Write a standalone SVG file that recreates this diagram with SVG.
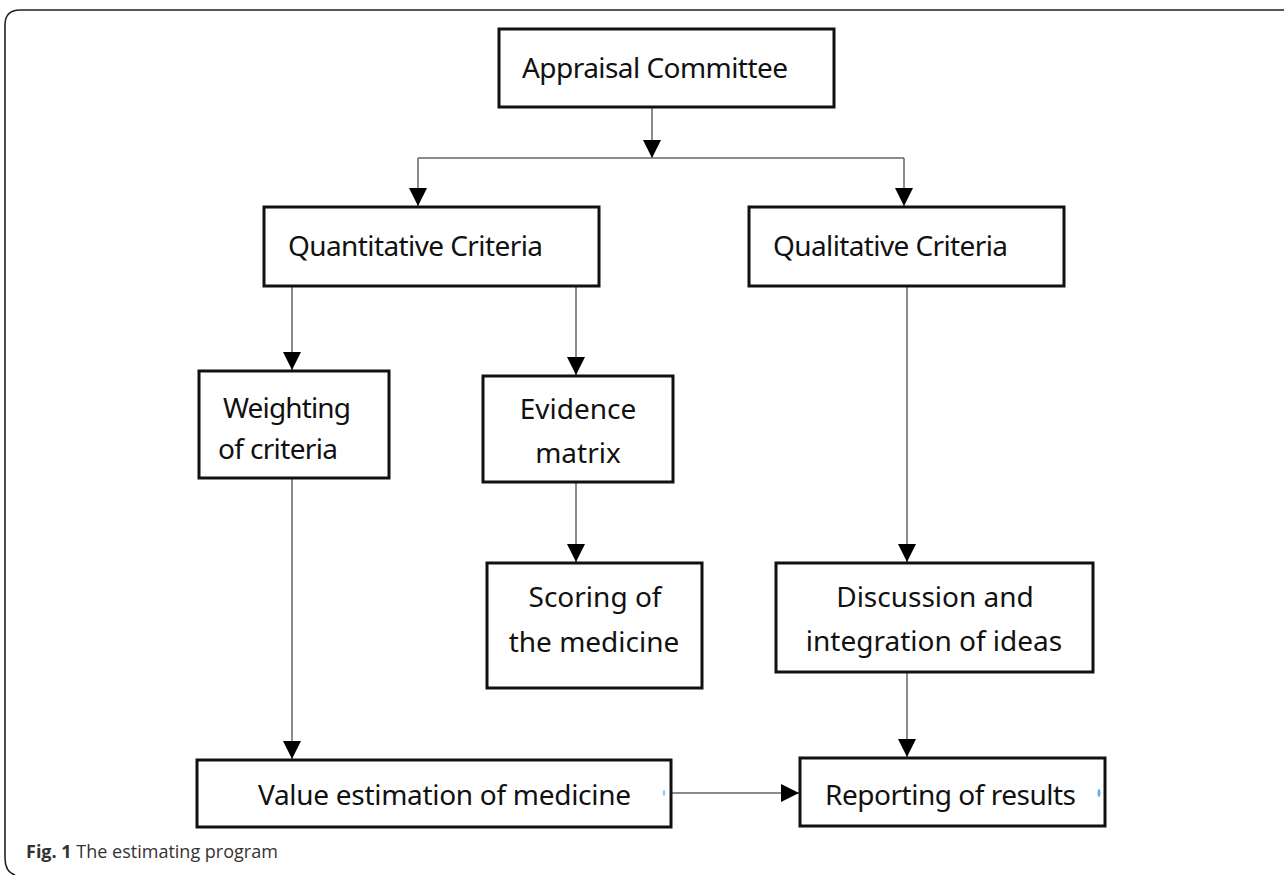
<svg xmlns="http://www.w3.org/2000/svg" width="1284" height="875" viewBox="0 0 1284 875">
<style>
.box{fill:#fff;stroke:#111;stroke-width:3}
.t{font-family:"Noto Sans","Open Sans",sans-serif;font-size:28px;fill:#111}
.c{text-anchor:middle}
.ln{fill:none;stroke:#666;stroke-width:1.5}
.cap{font-family:"Open Sans","Noto Sans",sans-serif;font-size:18px;fill:#333}
</style>
<defs>
<marker id="ah" markerUnits="userSpaceOnUse" markerWidth="18" markerHeight="18" viewBox="0 0 16 16" refX="16" refY="8" orient="auto">
<path d="M0,0 L16,8 L0,16 Z" fill="#000"/>
</marker>
</defs>
<rect width="1284" height="875" fill="#fff"/>
<path d="M1284 10 H20 Q5 10 5 25 V858 Q5 872 15 875" fill="none" stroke="#222" stroke-width="1.6"/>

<g id="connectors">
<line class="ln" x1="652" y1="107" x2="652" y2="158" marker-end="url(#ah)"/>
<line class="ln" x1="418" y1="158" x2="904" y2="158"/>
<line class="ln" x1="418" y1="158" x2="418" y2="206" marker-end="url(#ah)"/>
<line class="ln" x1="904" y1="158" x2="904" y2="206" marker-end="url(#ah)"/>
<line class="ln" x1="292" y1="286" x2="292" y2="370" marker-end="url(#ah)"/>
<line class="ln" x1="576" y1="286" x2="576" y2="375" marker-end="url(#ah)"/>
<line class="ln" x1="576" y1="482" x2="576" y2="562" marker-end="url(#ah)"/>
<line class="ln" x1="907" y1="286" x2="907" y2="562" marker-end="url(#ah)"/>
<line class="ln" x1="292" y1="478" x2="292" y2="759" marker-end="url(#ah)"/>
<line class="ln" x1="907" y1="672" x2="907" y2="757" marker-end="url(#ah)"/>
<line class="ln" x1="671" y1="793" x2="799" y2="793" marker-end="url(#ah)"/>
</g>

<g id="appraisal">
<rect class="box" x="499" y="29" width="335" height="78"/>
<text class="t" x="522" y="78" textLength="266">Appraisal Committee</text>
</g>
<g id="quantitative">
<rect class="box" x="264" y="207" width="335" height="79"/>
<text class="t" x="288" y="256" textLength="255">Quantitative  Criteria</text>
</g>
<g id="qualitative">
<rect class="box" x="749" y="207" width="315" height="79"/>
<text class="t" x="773" y="256" textLength="235">Qualitative  Criteria</text>
</g>
<g id="weighting">
<rect class="box" x="199" y="371" width="190" height="107"/>
<text class="t" x="223" y="418" textLength="128">Weighting</text>
<text class="t" x="218" y="459" textLength="120">of criteria</text>
</g>
<g id="evidence">
<rect class="box" x="483" y="376" width="190" height="106"/>
<text class="t c" x="578" y="419">Evidence</text>
<text class="t c" x="578" y="463">matrix</text>
</g>
<g id="scoring">
<rect class="box" x="487" y="563" width="215" height="125"/>
<text class="t c" x="595" y="607">Scoring  of</text>
<text class="t c" x="594" y="652">the  medicine</text>
</g>
<g id="discussion">
<rect class="box" x="776" y="563" width="317" height="109"/>
<text class="t c" x="935" y="607">Discussion  and</text>
<text class="t c" x="934" y="651">integration  of ideas</text>
</g>
<g id="value">
<rect class="box" x="197" y="760" width="474" height="67"/>
<text class="t" x="258" y="805" textLength="373">Value estimation  of medicine</text>
<ellipse cx="664" cy="793" rx="1.2" ry="3" fill="#8fc3f0"/>
</g>
<g id="reporting">
<rect class="box" x="800" y="758" width="305" height="68"/>
<text class="t" x="825" y="805" textLength="251">Reporting  of results</text>
<ellipse cx="1099" cy="793" rx="1.5" ry="4" fill="#6aaef0"/>
</g>
<text class="cap" x="26" y="858"><tspan font-weight="bold">Fig. 1</tspan> The estimating program</text>
</svg>
